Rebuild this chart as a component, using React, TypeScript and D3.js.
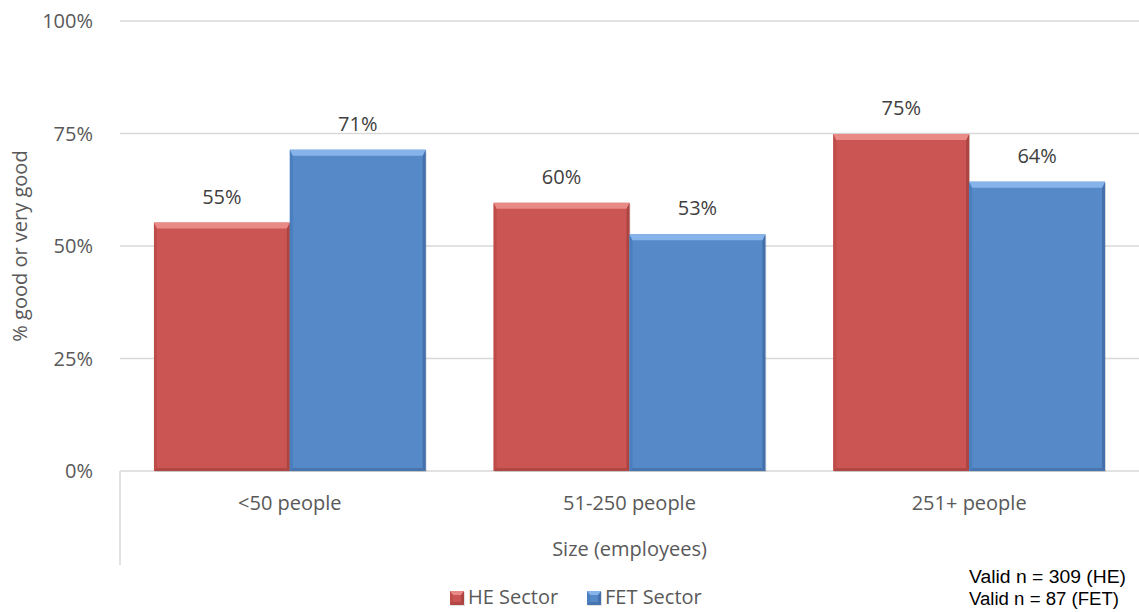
import React from "react";
import * as d3 from "d3";

const categories = ["<50 people", "51-250 people", "251+ people"];
const seriesNames = ["HE Sector", "FET Sector"];
const heValues = [0.552, 0.596, 0.749];
const fetValues = [0.714, 0.526, 0.643];
const yTicks = [0, 0.25, 0.5, 0.75, 1];
const notes = ["Valid n = 309 (HE)", "Valid n = 87 (FET)"];

const W = 1139, H = 612;
const FONT = "'Open Sans', 'DejaVu Sans', sans-serif";
const FS = 20;
const colors = [
  { main: "#CB5552", light: "#E98A86", dark: "#9E3D3A", side: "#BE4C49" },
  { main: "#5589C8", light: "#86B4EA", dark: "#3D67A0", side: "#4B7EBE" },
];

function Bar({ x, y, w, h, c, b0 = 6 }: any) {
  const b = Math.min(b0, h / 2);
  const s = Math.min(3, h / 2);
  return (
    <g>
      <rect x={x + 1} y={y + 1} width={w} height={h} fill="#000" opacity={0.12} />
      <rect x={x} y={y} width={w} height={h} fill={c.main} />
      <polygon points={`${x},${y} ${x + s},${y + b} ${x + s},${y + h - s} ${x},${y + h}`} fill={c.side} />
      <polygon points={`${x + w},${y} ${x + w - s},${y + b} ${x + w - s},${y + h - s} ${x + w},${y + h}`} fill={c.dark} opacity={0.7} />
      <polygon points={`${x},${y} ${x + w},${y} ${x + w - s},${y + b} ${x + s},${y + b}`} fill={c.light} />
      <polygon points={`${x},${y + h} ${x + s},${y + h - s} ${x + w - s},${y + h - s} ${x + w},${y + h}`} fill={c.dark} opacity={0.6} />
    </g>
  );
}

export default function App() {
  const left = 120, right = 1139, top = 21, bottom = 471;
  const x0 = d3.scaleBand().domain(categories).range([left, right]).paddingInner(0.2).paddingOuter(0.1);
  const x1 = d3.scaleBand().domain(seriesNames).range([0, x0.bandwidth()]).padding(0);
  const y = d3.scaleLinear().domain([0, 1]).range([bottom, top]);
  const series = [heValues, fetValues];
  const fmt = d3.format(".0%");

  return (
    <svg width={W} height={H} style={{ position: "absolute", left: 0, top: 0, background: "#fff" }}>
      {yTicks.map((t) => (
        <g key={t}>
          <line x1={left} x2={right} y1={y(t)} y2={y(t)} stroke="#D9D9D9" strokeWidth={1.5} />
          <text x={93} y={y(t)} dy="0.35em" textAnchor="end" fontFamily={FONT} fontSize={FS} fill="#595959">
            {fmt(t)}
          </text>
        </g>
      ))}
      <line x1={left} x2={left} y1={bottom} y2={565} stroke="#D9D9D9" strokeWidth={1.5} />
      {categories.map((cat, i) => (
        <g key={cat}>
          {series.map((vals, s) => {
            const bx = x0(cat)! + x1(seriesNames[s])!;
            const by = y(vals[i]);
            return (
              <g key={s}>
                <Bar x={bx} y={by} w={x1.bandwidth()} h={bottom - by} c={colors[s]} />
                <text x={bx + x1.bandwidth() / 2} y={by - 26} dy="0.35em" textAnchor="middle" fontFamily={FONT} fontSize={FS} fill="#404040">
                  {fmt(vals[i])}
                </text>
              </g>
            );
          })}
          <text x={x0(cat)! + x0.bandwidth() / 2} y={503} dy="0.35em" textAnchor="middle" fontFamily={FONT} fontSize={FS} fill="#595959">
            {cat}
          </text>
        </g>
      ))}
      <text x={(left + right) / 2} y={549} dy="0.35em" textAnchor="middle" fontFamily={FONT} fontSize={FS} fill="#595959">
        Size (employees)
      </text>
      <text transform={`translate(20,${(top + bottom) / 2}) rotate(-90)`} dy="0.35em" textAnchor="middle" fontFamily={FONT} fontSize={FS} fill="#595959">
        % good or very good
      </text>
      {seriesNames.map((name, s) => {
        const lx = s === 0 ? 450 : 587;
        return (
          <g key={name}>
            <Bar x={lx} y={591} w={14} h={14} c={colors[s]} b0={4} />
            <text x={lx + 18} y={597} dy="0.35em" fontFamily={FONT} fontSize={FS} fill="#595959">
              {name}
            </text>
          </g>
        );
      })}
      {notes.map((n, i) => (
        <text key={n} x={969} y={577 + i * 22} dy="0.35em" fontFamily="'Liberation Sans Narrow', 'Liberation Sans', sans-serif" fontSize={18} fill="#000"
          textLength={i === 0 ? 157 : 150} lengthAdjust="spacingAndGlyphs">
          {n}
        </text>
      ))}
    </svg>
  );
}
